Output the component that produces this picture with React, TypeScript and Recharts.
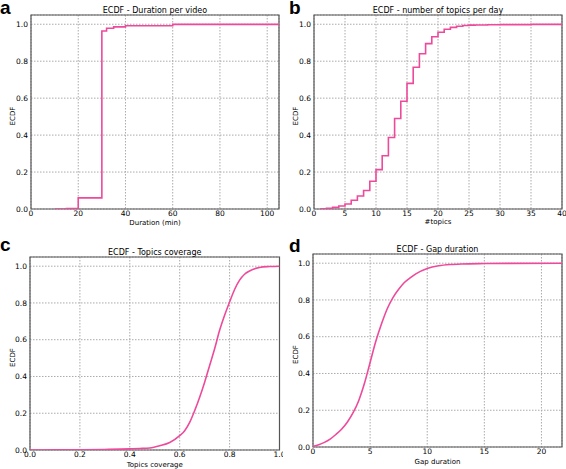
import React from 'react';
import { LineChart, Line, XAxis, YAxis, CartesianGrid, ReferenceArea } from 'recharts';

// a - duration per video (step ECDF)
const durationMin = [10, 15, 20, 30, 32, 35, 40, 60, 105];
const durationEcdf = [0, 0.003, 0.06, 0.963, 0.978, 0.986, 0.992, 0.999, 1.0];

// b - number of topics per day (step ECDF)
const topicsCount = [1, 2, 3, 4, 5, 6, 7, 8, 9, 10, 11, 12, 13, 14, 15, 16, 17, 18, 19, 20, 21, 22, 23, 24, 25, 26, 28, 30, 35, 40];
const topicsEcdf = [0.001, 0.004, 0.009, 0.016, 0.027, 0.047, 0.07, 0.1, 0.15, 0.213, 0.288, 0.387, 0.49, 0.583, 0.68, 0.767, 0.84, 0.895, 0.932, 0.957, 0.973, 0.983, 0.989, 0.993, 0.995, 0.996, 0.997, 0.998, 0.999, 1.0];

// c - topics coverage
const coverage = [0, 0.1, 0.2, 0.3, 0.4, 0.44, 0.48, 0.52, 0.56, 0.6, 0.62, 0.64, 0.66, 0.68, 0.7, 0.72, 0.74, 0.76, 0.78, 0.8, 0.82, 0.84, 0.86, 0.88, 0.92, 0.96, 1.0];
const coverageEcdf = [0, 0.0005, 0.001, 0.003, 0.006, 0.008, 0.011, 0.023, 0.041, 0.078, 0.105, 0.15, 0.214, 0.287, 0.369, 0.46, 0.551, 0.651, 0.733, 0.805, 0.873, 0.924, 0.956, 0.974, 0.993, 0.998, 1.0];

// d - gap duration
const gapDuration = [0, 0.5, 1, 1.5, 2, 2.5, 3, 3.5, 4, 4.5, 5, 5.5, 6, 6.5, 7, 7.5, 8, 8.5, 9, 10, 11, 12, 13, 15, 17, 21.8];
const gapEcdf = [0.004, 0.012, 0.025, 0.043, 0.068, 0.097, 0.135, 0.185, 0.252, 0.345, 0.46, 0.575, 0.67, 0.752, 0.813, 0.858, 0.895, 0.92, 0.942, 0.971, 0.986, 0.993, 0.996, 0.998, 0.999, 1.0];

const yTicks = [0, 0.2, 0.4, 0.6, 0.8, 1.0];
const durationTicks = [0, 20, 40, 60, 80, 100];
const topicsTicks = [0, 5, 10, 15, 20, 25, 30, 35, 40];
const coverageTicks = [0, 0.2, 0.4, 0.6, 0.8, 1.0];
const gapTicks = [0, 5, 10, 15, 20];

const PINK = '#ee4a9b';
const FONT = '"DejaVu Sans", sans-serif';

const zip = (xs: number[], ys: number[]) => xs.map((x, i) => ({ x, y: ys[i] }));

const EcdfLabel = (props: any) => {
  const vb = props.viewBox || { x: 0, y: 0, height: 0 };
  const cx = vb.x + 12.5;
  const cy = vb.y + vb.height / 2 + 4;
  return (
    <text x={cx} y={cy} transform={`rotate(-90 ${cx} ${cy})`} textAnchor="middle"
      dominantBaseline="central" fontSize={7} fontFamily={FONT} fill="#000">ECDF</text>
  );
};

interface PanelProps {
  left: number;
  top: number;
  height: number;
  margin: { top: number; right: number; bottom: number; left: number };
  yWidth: number;
  xHeight: number;
  title: string;
  xLabel: string;
  xLabelOffset: number;
  xDomain: [number, number];
  xTicks: number[];
  xFmt?: (v: number) => string;
  data: { x: number; y: number }[];
  curve: 'stepAfter' | 'monotone';
}

function Panel(p: PanelProps) {
  const tick = { fontSize: 7.5, fontFamily: FONT, fill: '#000' };
  return (
    <div style={{ position: 'absolute', left: p.left, top: p.top }}>
      <LineChart width={283} height={p.height} data={p.data} margin={p.margin}>
        <CartesianGrid stroke="#aaa" strokeDasharray="1.5 1.5" />
        <XAxis type="number" dataKey="x" domain={p.xDomain} ticks={p.xTicks} interval={0}
          allowDataOverflow tickFormatter={p.xFmt} height={p.xHeight} axisLine={false}
          tickLine={false} tickSize={0} tickMargin={2} tick={tick}
          label={{ value: p.xLabel, position: 'insideBottom', offset: p.xLabelOffset, fontSize: 7, fontFamily: FONT, fill: '#000' }} />
        <YAxis type="number" domain={[0, 1.05]} ticks={yTicks} interval={0} allowDataOverflow
          tickFormatter={(v: number) => v.toFixed(1)} width={p.yWidth} axisLine={false}
          tickLine={false} tickSize={0} tickMargin={3} tick={tick}
          label={{ content: EcdfLabel }} />
        <ReferenceArea x1={p.xDomain[0]} x2={p.xDomain[1]} y1={0} y2={1.05} fill="none"
          fillOpacity={0} stroke="#555" strokeWidth={1.2}
          label={{ value: p.title, position: 'top', offset: 2, fontSize: 8, fontFamily: FONT, fill: '#000' }} />
        <Line type={p.curve} dataKey="y" stroke={PINK} strokeWidth={1.6} dot={false}
          isAnimationActive={false} />
      </LineChart>
    </div>
  );
}

export default function App() {
  const letter = { fontFamily: '"Liberation Sans", Arial, sans-serif', fontWeight: 700, fontSize: 19, fill: '#000' };
  return (
    <div style={{ position: 'absolute', left: 0, top: 0, width: 566, height: 469, background: '#fff' }}>
      <Panel left={0} top={0} height={230} margin={{ top: 15, right: 4, bottom: 0, left: 0 }}
        yWidth={31} xHeight={21} title="ECDF - Duration per video" xLabel="Duration (min)"
        xLabelOffset={5} xDomain={[0, 105]} xTicks={durationTicks}
        data={zip(durationMin, durationEcdf)} curve="stepAfter" />
      <Panel left={283} top={0} height={230} margin={{ top: 15, right: 4, bottom: 0, left: 0 }}
        yWidth={31} xHeight={21} title="ECDF - number of topics per day" xLabel="#topics"
        xLabelOffset={6} xDomain={[0, 40]} xTicks={topicsTicks}
        data={zip(topicsCount, topicsEcdf)} curve="stepAfter" />
      <Panel left={0} top={230} height={239} margin={{ top: 27, right: 3.5, bottom: 0, left: 0 }}
        yWidth={30} xHeight={19} title="ECDF - Topics coverage" xLabel="Topics coverage"
        xLabelOffset={2.5} xDomain={[0, 1]} xTicks={coverageTicks} xFmt={(v: number) => v.toFixed(1)}
        data={zip(coverage, coverageEcdf)} curve="monotone" />
      <Panel left={283} top={230} height={239} margin={{ top: 24, right: 4, bottom: 0, left: 0 }}
        yWidth={30} xHeight={22} title="ECDF - Gap duration" xLabel="Gap duration"
        xLabelOffset={5.5} xDomain={[0, 21.8]} xTicks={gapTicks}
        data={zip(gapDuration, gapEcdf)} curve="monotone" />
      <svg width={566} height={469} style={{ position: 'absolute', left: 0, top: 0, pointerEvents: 'none' }}>
        <text x={0} y={14} {...letter}>a</text>
        <text x={289} y={14} {...letter}>b</text>
        <text x={0} y={250.7} {...letter}>c</text>
        <text x={289} y={251.7} {...letter}>d</text>
      </svg>
    </div>
  );
}
